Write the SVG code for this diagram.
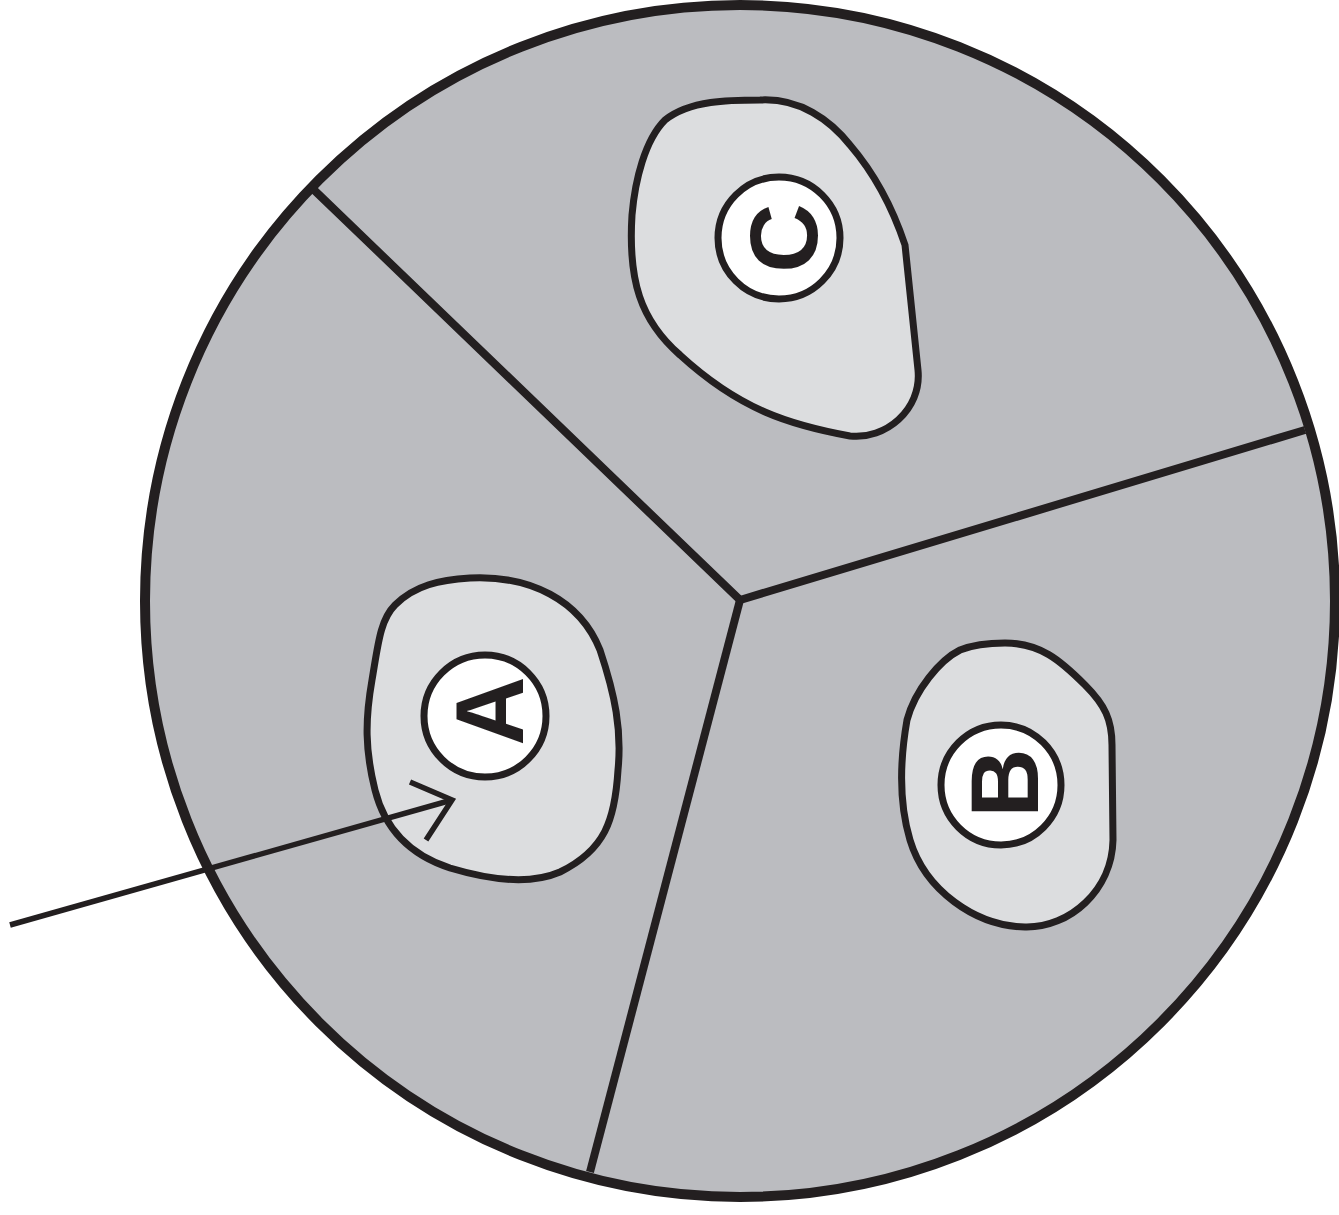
<svg xmlns="http://www.w3.org/2000/svg" width="1339" height="1215" viewBox="0 0 1339 1215">
<style>
.outer{fill:#bbbcc0;stroke:#231f20;stroke-width:10}
.div{fill:none;stroke:#231f20;stroke-width:8;stroke-linecap:butt;stroke-linejoin:miter}
.blob{fill:#dcdddf;stroke:#231f20;stroke-width:7}
.ring{fill:#ffffff;stroke:#231f20;stroke-width:7}
.lbl{font-family:"Liberation Sans",Arial,sans-serif;font-weight:bold;font-size:96px;fill:#231f20;text-anchor:middle}
.arrow{fill:none;stroke:#231f20;stroke-width:5.5}
</style>
<rect width="1339" height="1215" fill="#ffffff"/>
<g id="disc">
<ellipse class="outer" cx="740" cy="601" rx="595" ry="596"/>
<polyline class="div" points="312,188 740,600 1305,430"/>
<line class="div" x1="740" y1="600" x2="590" y2="1172"/>
</g>
<g id="nodeC">
<path class="blob" d="M 760 100 C 800 98, 830 120, 850 145 C 880 180, 895 215, 905 245 L 918 370 C 922 410, 885 440, 850 436 C 790 425, 740 410, 680 355 C 640 320, 628 280, 632 215 C 635 180, 645 140, 665 120 C 690 100, 730 100, 760 100 Z"/>
<circle class="ring" cx="779" cy="238" r="61"/>
<text class="lbl" transform="translate(783,238) rotate(-90)" x="0" y="34">C</text>
</g>
<g id="nodeA">
<path class="blob" d="M 470 578 C 530 575, 580 600, 600 650 C 615 695, 622 730, 618 770 C 615 820, 605 850, 560 872 C 530 885, 490 880, 450 868 C 410 855, 385 830, 375 790 C 365 750, 365 720, 372 680 C 378 645, 380 620, 395 605 C 415 585, 440 580, 470 578 Z"/>
<circle class="ring" cx="485" cy="716" r="61"/>
<text class="lbl" transform="translate(488,711) rotate(-90)" x="0" y="35">A</text>
</g>
<g id="nodeB">
<path class="blob" d="M 1005 643 C 1040 643, 1060 660, 1085 685 C 1105 705, 1112 720, 1112 745 L 1113 840 C 1112 890, 1070 928, 1025 927 C 975 926, 925 890, 910 840 C 898 800, 900 760, 907 720 C 915 690, 940 660, 960 650 C 975 644, 990 643, 1005 643 Z"/>
<circle class="ring" cx="1001" cy="785" r="60"/>
<text class="lbl" transform="translate(1003,783) rotate(-90)" x="0" y="35">B</text>
</g>
<g id="connectors">
<line class="arrow" x1="10" y1="925" x2="452" y2="800"/>
<polyline class="arrow" points="410,782 452,800 426,840"/>
</g>
</svg>
